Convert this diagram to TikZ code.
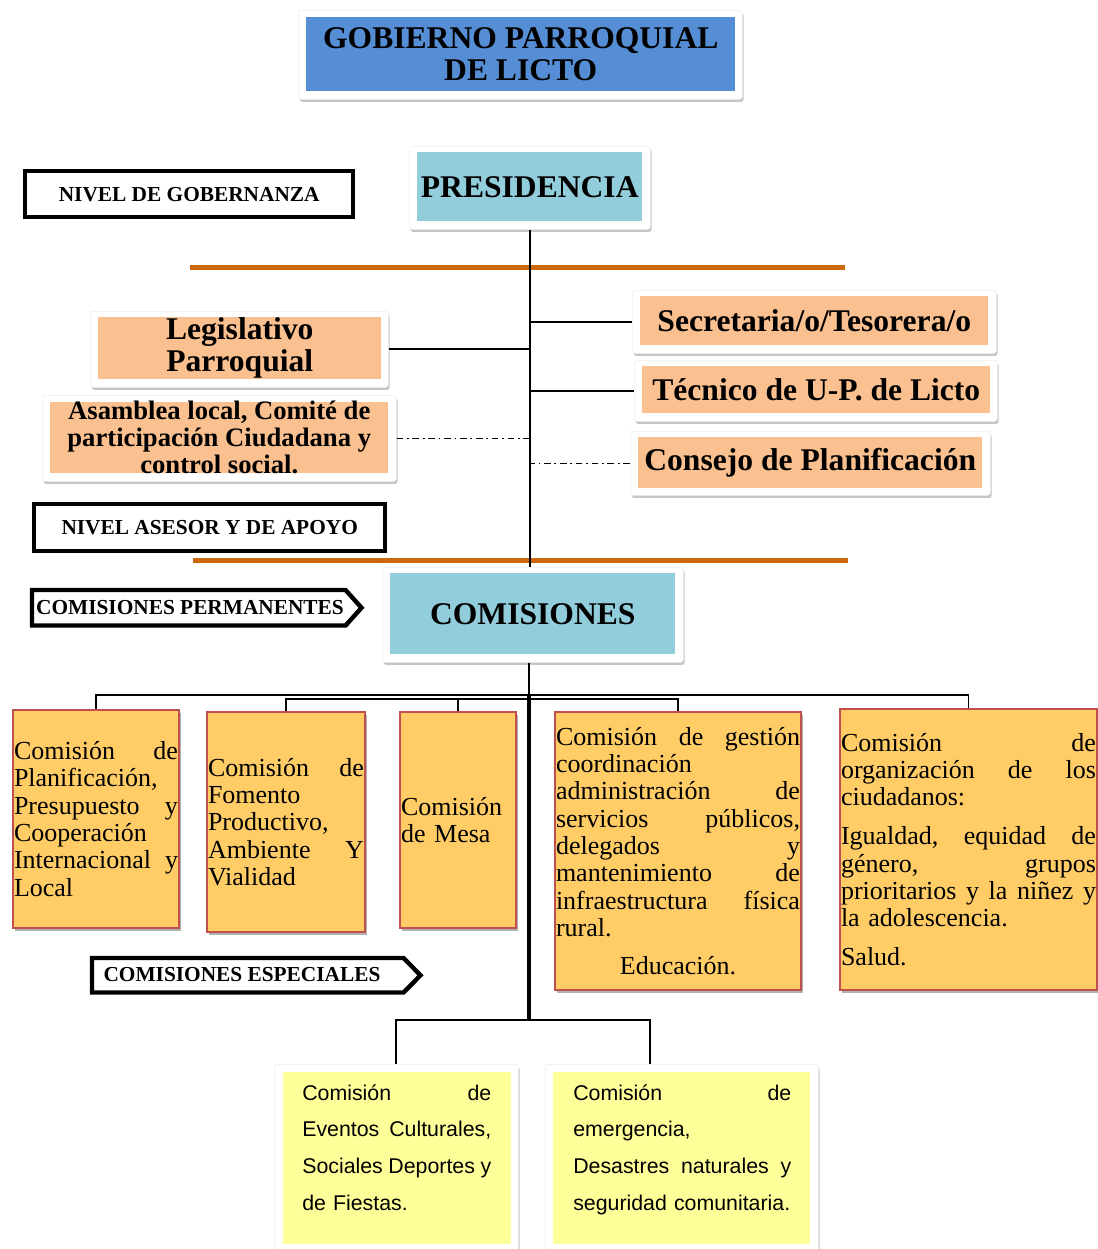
\documentclass[tikz,border=0pt]{standalone}
\usepackage{fontspec}
\setmainfont{Liberation Serif}
\setsansfont{Liberation Sans}
\usetikzlibrary{shadows,calc}

\definecolor{titleblue}{RGB}{85,142,213}
\definecolor{headblue}{RGB}{146,205,220}
\definecolor{peach}{RGB}{250,192,144}
\definecolor{gold}{RGB}{255,204,102}
\definecolor{goldedge}{RGB}{192,80,77}
\definecolor{paleyellow}{RGB}{255,255,153}
\definecolor{rulecol}{RGB}{205,104,10}

\newcommand\fsz[2]{\fontsize{#1pt}{#2pt}\selectfont}
% column width of the text inside a box
\newlength\colw
% a fully justified line and a centred line
\newcommand\jl[1]{\leavevmode\hbox to\colw{\frenchspacing\spaceskip=0.25em plus 1fil\relax #1}\par}
\newcommand\cl[1]{\leavevmode\hbox to\colw{\hfil #1\hfil}\par}

\tikzset{
  card/.style={fill=white, draw=black!7, rounded corners=2pt, inner sep=0pt,
    drop shadow={shadow xshift=1pt, shadow yshift=-2pt, opacity=0.28, fill=black!80}},
  tint/.style={fill=#1, inner sep=0pt},
  head/.style={font=\fsz{23.7}{24}\bfseries},
  levelbox/.style={draw=black, line width=3.3pt, inner sep=0pt, font=\fsz{16}{18}\bfseries},
  tag/.style={draw=black, line width=3.3pt, line join=miter},
  tagtext/.style={font=\fsz{16}{18}\bfseries, inner sep=0pt},
  link/.style={line width=1.4pt},
  trunk/.style={line width=2.6pt},
  dashdot link/.style={line width=1.1pt, dash pattern=on 5pt off 2.8pt on 1.3pt off 2.8pt},
  band/.style={draw=rulecol, line width=3.75pt},
  tw/.style={text width=#1, execute at begin node={\setlength\colw{#1}}},
  comm/.style={fill=gold, draw=goldedge, line width=1.5pt, inner xsep=0.75pt, inner ysep=0pt,
    anchor=north west, font=\fsz{19.5}{20.5},
    drop shadow={shadow xshift=1.5pt, shadow yshift=-2pt, opacity=0.3, fill=black}},
  special/.style={font=\sffamily\fsz{16}{27.7}, inner sep=0pt, anchor=base west}
}

\begin{document}
\begin{tikzpicture}[x=0.75pt,y=-0.75pt]
\useasboundingbox (0,0) rectangle (1098,1249);

% orange bands
\coordinate (bandAl) at (190,267);
\coordinate (bandAr) at (845,267);
\coordinate (bandBl) at (193,560);
\coordinate (bandBr) at (848,560);
\draw[band] (bandAl) -- (bandAr);
\draw[band] (bandBl) -- (bandBr);

% title
\node[card, anchor=north west, minimum width=333pt, minimum height=66.75pt] (titleC) at (298,10) {};
\node[tint=titleblue, anchor=north west, minimum width=321.75pt, minimum height=55.5pt] (titleF) at (306,17) {};
\node[head, align=center] (title) at (titleF.center) {GOBIERNO PARROQUIAL\\DE LICTO};

% level labels
\node[levelbox, anchor=north west, minimum width=246pt, minimum height=34.5pt] (gob) at (23,169) {NIVEL DE GOBERNANZA};
\node[levelbox, anchor=north west, minimum width=263.25pt, minimum height=35.25pt] (ase) at (32,502) {NIVEL ASESOR Y DE APOYO};

% presidencia
\node[card, anchor=north west, minimum width=180.75pt, minimum height=62.25pt] (presC) at (409,146) {};
\node[tint=headblue, head, anchor=north west, minimum width=168.75pt, minimum height=51.75pt] (pres) at (417,152) {PRESIDENCIA};

% staff units
\node[card, anchor=north west, minimum width=273pt, minimum height=47.25pt] (secC) at (632,290) {};
\node[tint=peach, head, anchor=north west, minimum width=261pt, minimum height=36.75pt] (sec) at (640,296) {Secretaria/o/Tesorera/o};
\node[card, anchor=north west, minimum width=272.25pt, minimum height=45.75pt] (tecC) at (634,360) {};
\node[tint=peach, head, anchor=north west, minimum width=261pt, minimum height=35.25pt] (tec) at (642,366) {Técnico de U-P. de Licto};
\node[card, anchor=north west, minimum width=270pt, minimum height=48pt] (conC) at (630,431) {};
\node[tint=peach, head, anchor=north west, minimum width=258pt, minimum height=38.25pt] (con) at (638,437) {Consejo de Planificación};

\node[card, anchor=north west, minimum width=223.5pt, minimum height=57pt] (legC) at (90,311) {};
\node[tint=peach, anchor=north west, minimum width=212.25pt, minimum height=46.5pt] (legF) at (98,317) {};
\node[head, align=center, inner sep=0pt] (leg) at (legF.center) {Legislativo\\Parroquial};

\node[card, anchor=north west, minimum width=265.5pt, minimum height=64.5pt] (asaC) at (42,395) {};
\node[tint=peach, anchor=north west, minimum width=253.5pt, minimum height=53.25pt] (asaF) at (50,402) {};
\node[font=\fsz{20}{20.25}\bfseries, align=center, inner sep=0pt] (asa) at (asaF.center) {Asamblea local, Comité de\\participación Ciudadana y\\control social.};

% comisiones
\node[card, anchor=north west, minimum width=225.75pt, minimum height=71.25pt] (comC) at (382,567) {};
\node[tint=headblue, head, anchor=north west, minimum width=213.75pt, minimum height=60.75pt] (com) at (390,573) {COMISIONES};

% arrow tags
\node[anchor=north west, minimum width=234.75pt, minimum height=26.25pt, inner sep=0pt] (permF) at (32,590) {};
\draw[tag] (permF.north west) -- (permF.north east) -- ($(permF.east)+(16,0)$) -- (permF.south east) -- (permF.south west) -- cycle;
\node[tagtext] (perm) at (190,607.5) {COMISIONES PERMANENTES};
\node[anchor=north west, minimum width=233.25pt, minimum height=25.5pt, inner sep=0pt] (specF) at (92,958) {};
\draw[tag] (specF.north west) -- (specF.north east) -- ($(specF.east)+(17,0)$) -- (specF.south east) -- (specF.south west) -- cycle;
\node[tagtext] (spec) at (242,975) {COMISIONES ESPECIALES};

% permanent commissions
\node[comm, minimum width=124.5pt, minimum height=163.5pt, tw=123pt] (k1) at (12,709) {%
\jl{Comisión de}
Planificación,\par
\jl{Presupuesto y}
Cooperación\par
\jl{Internacional y}
Local\par};
\node[comm, minimum width=118.5pt, minimum height=165pt, tw=117pt] (k2) at (206,711) {%
\jl{Comisión de}
Fomento\par
Productivo,\par
\jl{Ambiente Y}
Vialidad\par};
\node[comm, minimum width=87pt, minimum height=162pt, tw=85.5pt] (k3) at (399,711) {%
Comisión\par
de Mesa\par};
\node[comm, minimum width=184.5pt, minimum height=208.5pt, tw=183pt] (k4) at (554,711) {%
\jl{Comisión de gestión}
coordinación\par
\jl{administración de}
\jl{servicios públicos,}
\jl{delegados y}
\jl{mantenimiento de}
\jl{infraestructura física}
rural.\par
\vspace{8pt}
\cl{Educación.}};
\node[comm, minimum width=192.75pt, minimum height=210.75pt, tw=191.25pt] (k5) at (839,708) {%
\jl{Comisión de}
\jl{organización de los}
ciudadanos:\par
\vspace{8.7pt}
\jl{Igualdad, equidad de}
\jl{género, grupos}
\jl{prioritarios y la niñez y}
la adolescencia.\par
\vspace{8.7pt}
Salud.\par};

% special commissions
\node[card, anchor=north west, minimum width=183pt, minimum height=144pt] (s1C) at (274,1064) {};
\node[tint=paleyellow, anchor=north west, minimum width=171pt, minimum height=129pt] (s1F) at (283,1072) {};
\node[special, tw=141.75pt] (s1) at (302,1100) {%
\jl{Comisión de}
\jl{Eventos Culturales,}
\jl{Sociales Deportes y}
de Fiestas.\par};
\node[card, anchor=north west, minimum width=204.75pt, minimum height=144pt] (s2C) at (545,1064) {};
\node[tint=paleyellow, anchor=north west, minimum width=192.75pt, minimum height=129pt] (s2F) at (553,1072) {};
\node[special, tw=163.5pt] (s2) at (573,1100) {%
\jl{Comisión de}
emergencia,\par
\jl{Desastres naturales y}
seguridad comunitaria.\par};

% connectors
\coordinate (busA) at (529,695);
\coordinate (busB) at (529,699);
\coordinate (spJ) at (529,1020);
\coordinate (spR) at (650,1020);

\draw[link] (presC.south) -- (presC.south |- comC.north);
\draw[link] (secC.west) -- (secC.west -| presC.south);
\draw[link] (tecC.west) -- (tecC.west -| presC.south);
\draw[dashdot link] (conC.west) -- (conC.west -| presC.south);
\draw[link] (legC.east) -- (legC.east -| presC.south);
\draw[dashdot link] (asaC.east) -- (asaC.east -| presC.south);
\draw[link] (comC.south -| busA) -- (busA);
\draw[link] (k1.north) |- (busA) -| (k5.north);
\draw[link] (k2.north) |- (busB) -| (k4.north);
\draw[link] (k3.north) -- (k3.north |- busB);
\draw[trunk] (busA) -- (spJ);
\draw[link] (s1C.north) |- (spJ) -- (spR) -- (spR |- s2C.north);
\end{tikzpicture}
\end{document}
